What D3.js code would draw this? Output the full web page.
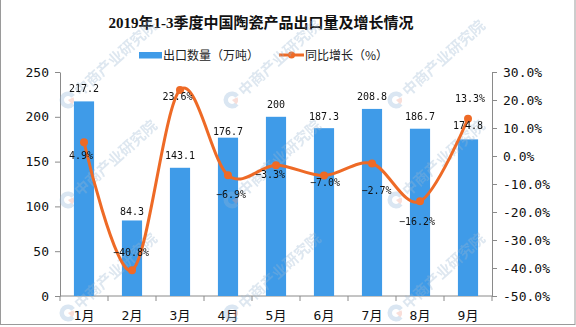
<!DOCTYPE html>
<html>
<head>
<meta charset="utf-8">
<script src="https://cdn.jsdelivr.net/npm/d3@7"></script>
<style>
  body { margin: 0; background: #fff; }
  svg { display: block; }
</style>
</head>
<body>
<svg id="chart" width="576" height="327"></svg>
<script>
// ---- data ----
const months = ["1月", "2月", "3月", "4月", "5月", "6月", "7月", "8月", "9月"];
const exportVolume = [217.2, 84.3, 143.1, 176.7, 200, 187.3, 208.8, 186.7, 174.8]; // 万吨
const yoyGrowth = [4.9, -40.8, 23.6, -6.9, -3.3, -7.0, -2.7, -16.2, 13.3];        // %
const volumeTicks = [0, 50, 100, 150, 200, 250];
const growthTicks = [-50, -40, -30, -20, -10, 0, 10, 20, 30];
const titleText = "2019年1-3季度中国陶瓷产品出口量及增长情况";
const legendLabels = ["出口数量（万吨）", "同比增长（%）"];
const watermarkText = "中商产业研究院";

// hand-placed label nudges (px) so labels clear the line and bars
const volumeLabelNudge = [0, 3, 0, 6, 0, 1, 0, 0, -1];
const growthLabelOffset = [[-3, 13], [-1, -18], [-2.5, 6], [3, 19], [-6, 9.5], [1, 6.5], [4.5, 27], [-3, 20], [2, -20]];

// ---- layout ----
const W = 576, H = 327;
const plot = { left: 60, right: 492, top: 72, bottom: 296 };
const BLUE = "#3f9be8", ORANGE = "#ee6a26", AXIS = "#8a8a8a";
const monoFont = "'DejaVu Sans Mono', 'Noto Sans CJK SC', monospace";

const svg = d3.select("#chart");
svg.append("rect").attr("width", W).attr("height", H).attr("fill", "#fff");

const x = d3.scaleBand().domain(months).range([plot.left, plot.right]).padding(0);
const yL = d3.scaleLinear().domain([0, 250]).range([plot.bottom, plot.top]);
const yR = d3.scaleLinear().domain([-50, 30]).range([plot.bottom, plot.top]);
const barW = x.bandwidth() * 0.42;
const cx = m => x(m) + x.bandwidth() / 2;

// ---- title ----
svg.append("text")
  .attr("x", 261).attr("y", 27.5)
  .attr("text-anchor", "middle")
  .attr("font-family", "'Liberation Serif', 'Noto Sans CJK SC', serif")
  .attr("font-weight", "bold")
  .attr("font-size", 15)
  .attr("fill", "#111")
  .text(titleText);

// ---- legend ----
const legend = svg.append("g").attr("font-family", "'Noto Sans CJK SC', sans-serif").attr("font-size", 12).attr("fill", "#222");
legend.append("rect").attr("x", 139).attr("y", 52).attr("width", 23).attr("height", 6.5).attr("fill", BLUE);
legend.append("text").attr("x", 163).attr("y", 59.5).text(legendLabels[0]);
legend.append("line").attr("x1", 279).attr("x2", 304).attr("y1", 55).attr("y2", 55)
  .attr("stroke", ORANGE).attr("stroke-width", 3);
legend.append("circle").attr("cx", 291.5).attr("cy", 55).attr("r", 3.5).attr("fill", ORANGE);
legend.append("text").attr("x", 305).attr("y", 59.5).text(legendLabels[1]);

// ---- axes ----
function styleAxis(g, size) {
  g.selectAll("path.domain").attr("stroke", AXIS);
  g.selectAll(".tick line").attr("stroke", AXIS);
  g.selectAll(".tick text").attr("fill", "#111").attr("font-size", size).attr("font-family", monoFont);
}

const axL = svg.append("g").attr("transform", `translate(${plot.left},0)`)
  .call(d3.axisLeft(yL).tickValues(volumeTicks).tickFormat(d3.format("d")).tickSize(5).tickSizeOuter(0).tickPadding(6));
styleAxis(axL, 13);

const axR = svg.append("g").attr("transform", `translate(${plot.right},0)`)
  .call(d3.axisRight(yR).tickValues(growthTicks).tickFormat(d => (d < 0 ? "-" : "") + d3.format(".1f")(Math.abs(d)) + "%")
    .tickSize(5).tickSizeOuter(0).tickPadding(6));
styleAxis(axR, 13);

// category axis: ticks at band boundaries, labels centred in bands
const axB = svg.append("g").attr("transform", `translate(0,${plot.bottom})`);
axB.append("line").attr("x1", plot.left).attr("x2", plot.right).attr("stroke", AXIS);
const bounds = months.map(m => x(m)).concat([plot.right]);
axB.selectAll("line.tk").data(bounds).join("line").attr("class", "tk")
  .attr("x1", d => d).attr("x2", d => d).attr("y1", 0).attr("y2", 5).attr("stroke", AXIS);
axB.selectAll("text").data(months).join("text")
  .attr("x", d => cx(d)).attr("y", 24)
  .attr("text-anchor", "middle")
  .attr("font-family", monoFont).attr("font-size", 13).attr("fill", "#111")
  .text(d => d);

// ---- bars ----
svg.append("g").selectAll("rect").data(months).join("rect")
  .attr("x", d => cx(d) - barW / 2)
  .attr("width", barW)
  .attr("y", (d, i) => yL(exportVolume[i]))
  .attr("height", (d, i) => yL(0) - yL(exportVolume[i]))
  .attr("fill", BLUE);

// ---- watermark ----
const wm = svg.append("g").attr("opacity", 0.33).attr("pointer-events", "none");
const wmCols = [68, 232, 396];
const wmRows = [100, 200, 313];
const arcBlue = d3.arc().innerRadius(4).outerRadius(8.5).startAngle(Math.PI * 0.72).endAngle(Math.PI * 2.3);
const arcRed = d3.arc().innerRadius(0).outerRadius(6).startAngle(Math.PI * 0.35).endAngle(Math.PI * 0.75);
wmRows.forEach(yy => wmCols.forEach(xx => {
  const g = wm.append("g").attr("transform", `translate(${xx},${yy})`);
  g.append("path").attr("d", arcBlue()).attr("fill", "#8fb4d6");
  g.append("path").attr("d", arcRed()).attr("fill", "#ec9a8a");
  g.append("text")
    .attr("transform", "rotate(-42)")
    .attr("x", 11).attr("y", 6)
    .attr("font-family", "'Noto Sans CJK SC', sans-serif")
    .attr("font-weight", "bold").attr("font-size", 15)
    .attr("fill", "#9ab7d2")
    .text(watermarkText);
}));

// ---- growth line ----
const line = d3.line()
  .x((d, i) => cx(months[i]))
  .y(d => yR(d))
  .curve(d3.curveCatmullRom.alpha(0));
svg.append("path").datum(yoyGrowth)
  .attr("d", line).attr("fill", "none")
  .attr("stroke", ORANGE).attr("stroke-width", 3).attr("stroke-linejoin", "round");
svg.append("g").selectAll("circle").data(yoyGrowth).join("circle")
  .attr("cx", (d, i) => cx(months[i])).attr("cy", d => yR(d)).attr("r", 4).attr("fill", ORANGE);

// ---- data labels ----
const labels = svg.append("g").attr("font-family", monoFont).attr("font-size", 10).attr("fill", "#111").attr("text-anchor", "middle");
labels.selectAll("text.vol").data(exportVolume).join("text").attr("class", "vol")
  .attr("x", (d, i) => cx(months[i]))
  .attr("y", (d, i) => yL(d) - 12.5 + volumeLabelNudge[i] + 3.6)
  .text(d => String(d));
labels.selectAll("text.yoy").data(yoyGrowth).join("text").attr("class", "yoy")
  .attr("x", (d, i) => cx(months[i]) + growthLabelOffset[i][0])
  .attr("y", (d, i) => yR(d) + growthLabelOffset[i][1] + 3.6)
  .text(d => d3.format(".1f")(d) + "%");

// ---- frame ----
svg.append("rect").attr("x", 0.5).attr("y", -1).attr("width", 574.5).attr("height", 325.5)
  .attr("fill", "none").attr("stroke", "#9a9a9a");
</script>
</body>
</html>
